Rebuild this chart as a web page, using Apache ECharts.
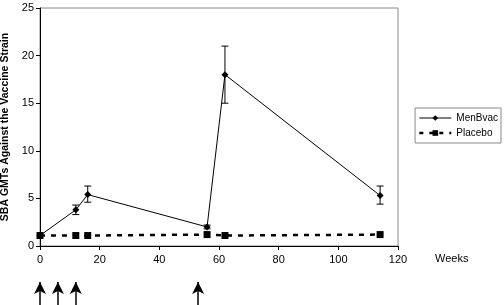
<!DOCTYPE html>
<html><head><meta charset="utf-8">
<script src="https://cdn.jsdelivr.net/npm/echarts@6/dist/echarts.min.js"></script>
<style>html,body{margin:0;padding:0;background:#fff}#c{width:504px;height:305px}</style>
</head><body><div id="c"></div>
<script>
const weeks = [0, 12, 16, 56, 62, 114];
const menbvac = [1.1, 3.8, 5.4, 2.0, 18.0, 5.3];
const menbvacLow = [1.1, 3.3, 4.6, 1.8, 15.0, 4.4];
const menbvacHigh = [1.1, 4.3, 6.3, 2.2, 21.0, 6.3];
const placeboWeeks = [0, 12, 16, 56, 62, 114];
const placebo = [1.1, 1.1, 1.1, 1.2, 1.1, 1.2];
const vaccinationWeeks = [0, 6, 12, 53];
const yTicks = [0, 5, 10, 15, 20, 25];
const xTicks = [0, 20, 40, 60, 80, 100, 120];

const font = 'Liberation Sans, Arial, sans-serif';
const chart = echarts.init(document.getElementById('c'), null, {renderer: 'canvas'});

const errData = weeks.map((w, i) => [w, menbvacLow[i], menbvacHigh[i]]).filter(d => d[2] - d[1] > 0.01);

chart.setOption({
  animation: false,
  grid: [
    {left: 40, top: 8, width: 358, height: 238, show: true, borderColor: '#888', borderWidth: 1, backgroundColor: '#fff', containLabel: false, outerBoundsMode: 'none'},
    {left: 40, top: 282, width: 358, height: 23, containLabel: false, outerBoundsMode: 'none'}
  ],
  xAxis: [
    {gridIndex: 0, type: 'value', min: xTicks[0], max: xTicks[xTicks.length - 1], interval: 20,
     axisLine: {onZero: false, lineStyle: {color: '#000', width: 1}},
     axisTick: {show: true, length: 4, lineStyle: {color: '#000'}},
     axisLabel: {color: '#000', fontFamily: font, fontSize: 11, margin: 8},
     splitLine: {show: false},
     name: 'Weeks', nameLocation: 'end', nameGap: 37,
     nameTextStyle: {color: '#000', fontFamily: font, fontSize: 11, verticalAlign: 'top', padding: [7, 0, 0, 0]}},
    {gridIndex: 1, type: 'value', min: xTicks[0], max: xTicks[xTicks.length - 1], show: false}
  ],
  yAxis: [
    {gridIndex: 0, type: 'value', min: yTicks[0], max: yTicks[yTicks.length - 1], interval: 5,
     axisLine: {show: true, lineStyle: {color: '#000', width: 1}},
     axisTick: {show: true, length: 4, lineStyle: {color: '#000'}},
     axisLabel: {color: '#000', fontFamily: font, fontSize: 11, margin: 6},
     splitLine: {show: false},
     name: 'SBA GMTs Against the Vaccine Strain', nameLocation: 'middle', nameGap: 27,
     nameTextStyle: {color: '#000', fontFamily: font, fontSize: 10.5, fontWeight: 'bold'}},
    {gridIndex: 1, type: 'value', min: 0, max: 1, show: false}
  ],
  legend: {
    right: 3, top: 108, orient: 'vertical', itemWidth: 32, itemHeight: 7, itemGap: 5,
    borderColor: '#888', borderWidth: 1, padding: [5, 3, 5, 3],
    textStyle: {color: '#000', fontFamily: font, fontSize: 10},
    data: [
      {name: 'MenBvac', lineStyle: {width: 1, color: '#000'}, itemStyle: {color: '#000'}},
      {name: 'Placebo', lineStyle: {width: 2.5, color: '#000', type: [4, 6]}, itemStyle: {color: '#000'}}
    ]
  },
  series: [
    {name: 'Placebo', type: 'line', xAxisIndex: 0, yAxisIndex: 0,
     data: placeboWeeks.map((w, i) => [w, placebo[i]]),
     symbol: 'rect', symbolSize: 7, itemStyle: {color: '#000'},
     lineStyle: {color: '#000', width: 2.5, type: [5, 6]}, z: 3},
    {name: 'MenBvac', type: 'line', xAxisIndex: 0, yAxisIndex: 0,
     data: weeks.map((w, i) => [w, menbvac[i]]),
     symbol: 'diamond', symbolSize: 7, itemStyle: {color: '#000'},
     lineStyle: {color: '#000', width: 1}, z: 4},
    {type: 'custom', xAxisIndex: 0, yAxisIndex: 0, data: errData, z: 5, silent: true,
     renderItem: function (params, api) {
       const x = api.value(0);
       const lo = api.coord([x, api.value(1)]);
       const hi = api.coord([x, api.value(2)]);
       const hw = 3.5;
       const st = {stroke: '#000', lineWidth: 1};
       return {type: 'group', children: [
         {type: 'line', shape: {x1: lo[0], y1: lo[1], x2: hi[0], y2: hi[1]}, style: st},
         {type: 'line', shape: {x1: lo[0] - hw, y1: lo[1], x2: lo[0] + hw, y2: lo[1]}, style: st},
         {type: 'line', shape: {x1: hi[0] - hw, y1: hi[1], x2: hi[0] + hw, y2: hi[1]}, style: st}
       ]};
     }},
    {type: 'line', xAxisIndex: 1, yAxisIndex: 1, data: [], silent: true,
     markLine: {silent: true, symbol: ['none', 'arrow'], symbolSize: [9, 12],
       label: {show: false},
       lineStyle: {color: '#000', width: 1.5, type: 'solid'},
       data: vaccinationWeeks.map(w => [{coord: [w, 0]}, {coord: [w, 1]}])}}
  ]
});
</script></body></html>
